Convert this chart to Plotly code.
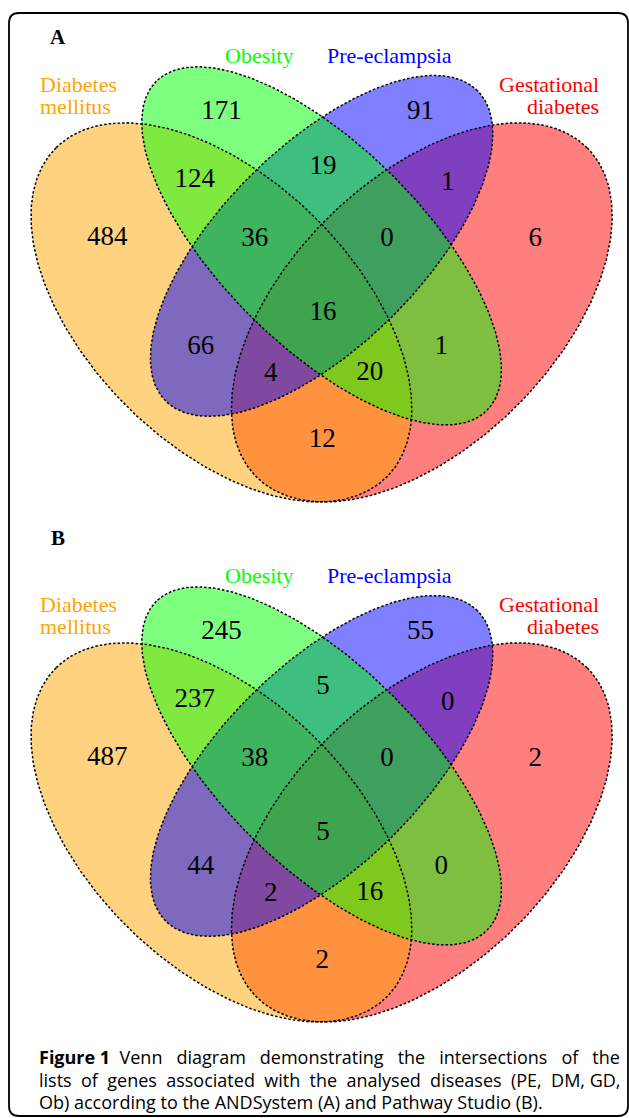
import numpy as np
import plotly.graph_objects as go

# ---------------- data ----------------
set_names = ["Diabetes mellitus", "Obesity", "Pre-eclampsia", "Gestational diabetes"]
set_colors = ["#FFA500", "#00FF00", "#0000FF", "#FF0000"]
# ellipse geometry (VennDiagram quad layout): cx, cy, a, b, rotation
ellipse_cx = [0.35, 0.50, 0.50, 0.65]
ellipse_cy = [0.47, 0.57, 0.57, 0.47]
ellipse_a = [0.35, 0.35, 0.33, 0.35]
ellipse_b = [0.20, 0.15, 0.15, 0.20]
ellipse_rot = [135, 135, 45, 45]
fill_order = [3, 0, 2, 1]

region_names = ["Ob", "PE", "DM&Ob", "Ob&PE", "PE&GD", "DM", "DM&Ob&PE", "Ob&PE&GD",
                "GD", "DM&Ob&PE&GD", "DM&PE", "Ob&GD", "DM&PE&GD", "DM&Ob&GD", "DM&GD"]
region_x = [0.350, 0.648, 0.310, 0.502, 0.689, 0.179, 0.400, 0.598,
            0.820, 0.502, 0.319, 0.679, 0.424, 0.572, 0.501]
region_y = [0.771, 0.771, 0.669, 0.689, 0.664, 0.582, 0.580, 0.580,
            0.580, 0.469, 0.417, 0.418, 0.377, 0.378, 0.277]
counts_A = [171, 91, 124, 19, 1, 484, 36, 0, 6, 16, 66, 1, 4, 20, 12]
counts_B = [245, 55, 237, 5, 0, 487, 38, 0, 2, 5, 44, 0, 2, 16, 2]

panel_letters = ["A", "B"]
panel_offsets = [0.0, 0.782]  # vertical shift of each panel (venn units)

NB = "\u00a0"
caption_lines = [
    f"<b>Figure 1</b> {NB}Venn {NB}{NB}diagram {NB}{NB}demonstrating {NB}{NB}the {NB}{NB}intersections {NB}{NB}of {NB}{NB}the",
    f"lists {NB}of {NB}genes {NB}associated {NB}with {NB}the {NB}analysed {NB}diseases {NB}(PE, {NB}DM, GD,",
    "Ob) according to the ANDSystem (A) and Pathway Studio (B).",
]

# ---------------- figure ----------------
W, H = 629, 1118
fig = go.Figure()


def ellipse_pts(i, dy):
    t = np.linspace(0, 2 * np.pi, 400)
    th = np.deg2rad(ellipse_rot[i])
    a, b = ellipse_a[i], ellipse_b[i]
    x = ellipse_cx[i] + a * np.cos(t) * np.cos(th) - b * np.sin(t) * np.sin(th)
    y = ellipse_cy[i] + a * np.cos(t) * np.sin(th) + b * np.sin(t) * np.cos(th) - dy
    return x, y


def rgba(hexc, al):
    h = hexc.lstrip("#")
    return "rgba(%d,%d,%d,%s)" % (int(h[0:2], 16), int(h[2:4], 16), int(h[4:6], 16), al)


annotations = []
serif = "Liberation Serif"
for p, dy in enumerate(panel_offsets):
    for i in fill_order:
        x, y = ellipse_pts(i, dy)
        fig.add_trace(go.Scatter(x=x, y=y, mode="lines", fill="toself",
                                 fillcolor=rgba(set_colors[i], 0.5),
                                 line=dict(width=0), hoverinfo="skip", showlegend=False))
    for i in fill_order:
        x, y = ellipse_pts(i, dy)
        fig.add_trace(go.Scatter(x=x, y=y, mode="lines",
                                 line=dict(color="black", width=1.5, dash="2.5px,2px"),
                                 hoverinfo="skip", showlegend=False))
    counts = counts_A if p == 0 else counts_B
    fig.add_trace(go.Scatter(x=region_x, y=[v - dy for v in region_y], mode="text",
                             text=[str(c) for c in counts],
                             textfont=dict(family=serif, size=27, color="black"),
                             hoverinfo="skip", showlegend=False))
    annotations += [
        dict(x=0.406, y=0.857 - dy, text="Obesity", showarrow=False,
             font=dict(family=serif, size=22, color=set_colors[1])),
        dict(x=0.601, y=0.857 - dy, text="Pre-eclampsia", showarrow=False,
             font=dict(family=serif, size=22, color=set_colors[2])),
        dict(x=0.0754, y=0.812 - dy, text="Diabetes", showarrow=False, xanchor="left",
             font=dict(family=serif, size=22, color=set_colors[0])),
        dict(x=0.0754, y=0.779 - dy, text="mellitus", showarrow=False, xanchor="left",
             font=dict(family=serif, size=22, color=set_colors[0])),
        dict(x=0.918, y=0.812 - dy, text="Gestational", showarrow=False, xanchor="right",
             font=dict(family=serif, size=22, color=set_colors[3])),
        dict(x=0.918, y=0.779 - dy, text="diabetes", showarrow=False, xanchor="right",
             font=dict(family=serif, size=22, color=set_colors[3])),
    ]

# panel letters (paper coords)
for letter, ypx in zip(panel_letters, [37, 538]):
    annotations.append(dict(x=58 / W, y=1 - ypx / H, xref="paper", yref="paper",
                            xanchor="center", yanchor="middle",
                            text="<b>%s</b>" % letter, showarrow=False,
                            font=dict(family=serif, size=21, color="black")))

# caption
for line, ypx in zip(caption_lines, [1057, 1080, 1102]):
    annotations.append(dict(x=37 / W, y=1 - ypx / H, xref="paper", yref="paper",
                            xanchor="left", yanchor="middle", text=line, showarrow=False,
                            font=dict(family="Open Sans", size=18, color="black")))

# frame (rounded rectangle)
x0, x1, y0, y1, r = 9 / W, 628 / W, 1 - 13 / H, 1 - 1116 / H, 10
rx, ry = r / W, r / H
path = (f"M {x0+rx},{y0} L {x1-rx},{y0} Q {x1},{y0} {x1},{y0-ry} "
        f"L {x1},{y1+ry} Q {x1},{y1} {x1-rx},{y1} L {x0+rx},{y1} Q {x0},{y1} {x0},{y1+ry} "
        f"L {x0},{y0-ry} Q {x0},{y0} {x0+rx},{y0} Z")

fig.update_layout(
    width=W, height=H, margin=dict(l=0, r=0, t=0, b=0),
    paper_bgcolor="white", plot_bgcolor="white",
    xaxis=dict(range=[12.4 / 668, 641.4 / 668], visible=False, domain=[0, 1]),
    yaxis=dict(range=[0.839 - 1051 / 665, 0.839 + 67 / 665], visible=False, domain=[0, 1]),
    annotations=annotations,
    shapes=[dict(type="path", xref="paper", yref="paper", path=path,
                 line=dict(color="black", width=1.8))],
    showlegend=False,
)

fig.write_html("out.html", config={"displayModeBar": False},
               post_script="document.body.style.margin='0px';"
                           "document.body.style.overflow='hidden';")
